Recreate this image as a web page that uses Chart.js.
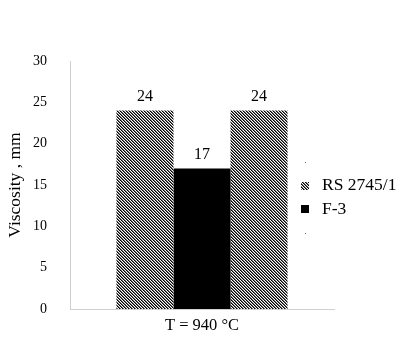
<!DOCTYPE html>
<html>
<head>
<meta charset="utf-8">
<script src="https://cdn.jsdelivr.net/npm/chart.js@4/dist/chart.umd.min.js"></script>
<style>
  html, body { margin: 0; padding: 0; background: #fff; }
  #wrap { width: 405px; height: 342px; }
</style>
</head>
<body>
<div id="wrap"><canvas id="chart" width="405" height="342"></canvas></div>
<script>
// data
const categories = ['T = 940 °C'];
const seriesNames = ['RS 2745/1', 'F-3', ''];
const seriesValues = [[24], [17], [24]];
const legendNames = ['', 'RS 2745/1', 'F-3', ''];
const yTicks = [0, 5, 10, 15, 20, 25, 30];

const FONT = '"Liberation Serif", "Times New Roman", serif';

// dense downward diagonal hatch, like the Excel pattern fill
function makeHatch(ctx) {
  const c = document.createElement('canvas');
  c.width = 3; c.height = 3;
  const p = c.getContext('2d');
  const shades = ['#000', '#6e6e6e', '#fff'];
  for (let y = 0; y < 3; y++) {
    for (let x = 0; x < 3; x++) {
      p.fillStyle = shades[((x - y) % 3 + 3) % 3];
      p.fillRect(x, y, 1, 1);
    }
  }
  return ctx.createPattern(c, 'repeat');
}

const ctx = document.getElementById('chart').getContext('2d');
const hatch = makeHatch(ctx);
const fills = [hatch, '#000', hatch];

// value labels above the bars
const valueLabels = {
  id: 'valueLabels',
  afterDatasetsDraw(chart) {
    const c = chart.ctx;
    c.save();
    c.font = '16px ' + FONT;
    c.fillStyle = '#000';
    c.textAlign = 'center';
    c.textBaseline = 'middle';
    chart.data.datasets.forEach((ds, i) => {
      chart.getDatasetMeta(i).data.forEach((bar, j) => {
        c.fillText(String(ds.data[j]), bar.x, bar.y - 14);
      });
    });
    c.restore();
  }
};

// legend on the right, entries with no name show as a tiny dot
const sideLegend = {
  id: 'sideLegend',
  afterDraw(chart) {
    const c = chart.ctx;
    c.save();
    c.font = '17.5px ' + FONT;
    c.textBaseline = 'middle';
    legendNames.forEach((name, k) => {
      const y = 162 + k * 23.5;
      if (!name) {
        c.fillStyle = '#777';
        c.fillRect(305, Math.round(y), 1, 1);
        return;
      }
      const idx = seriesNames.indexOf(name);
      c.fillStyle = fills[idx];
      c.fillRect(301, Math.round(y) - 4, 8, 8);
      c.fillStyle = '#000';
      c.fillText(name, 322, y);
    });
    c.restore();
  }
};

new Chart(ctx, {
  type: 'bar',
  data: {
    labels: categories,
    datasets: seriesNames.map((name, i) => ({
      label: name,
      data: seriesValues[i],
      backgroundColor: fills[i],
      borderWidth: 0,
      categoryPercentage: 0.648,
      barPercentage: 1
    }))
  },
  options: {
    responsive: false,
    animation: false,
    layout: { padding: { left: 0, top: 61, right: 71, bottom: 0 } },
    plugins: { legend: { display: false }, tooltip: { enabled: false } },
    scales: {
      x: {
        grid: { display: false, drawTicks: false },
        border: { color: '#d0d0d0', width: 1 },
        ticks: { color: '#000', font: { family: FONT, size: 16.5 }, padding: 7 },
        afterFit(s) { s.height = 33; }
      },
      y: {
        min: 0, max: 30,
        afterBuildTicks(s) { s.ticks = yTicks.map(v => ({ value: v })); },
        grid: { display: false, drawTicks: false },
        border: { color: '#d0d0d0', width: 1 },
        ticks: { color: '#000', font: { family: FONT, size: 14 }, padding: 23 },
        title: {
          display: true, text: 'Viscosity , mm', color: '#000',
          font: { family: FONT, size: 17.5 }, padding: { top: 5, bottom: 0 }
        },
        afterFit(s) { s.width = 70; }
      }
    }
  },
  plugins: [valueLabels, sideLegend]
});
</script>
</body>
</html>
